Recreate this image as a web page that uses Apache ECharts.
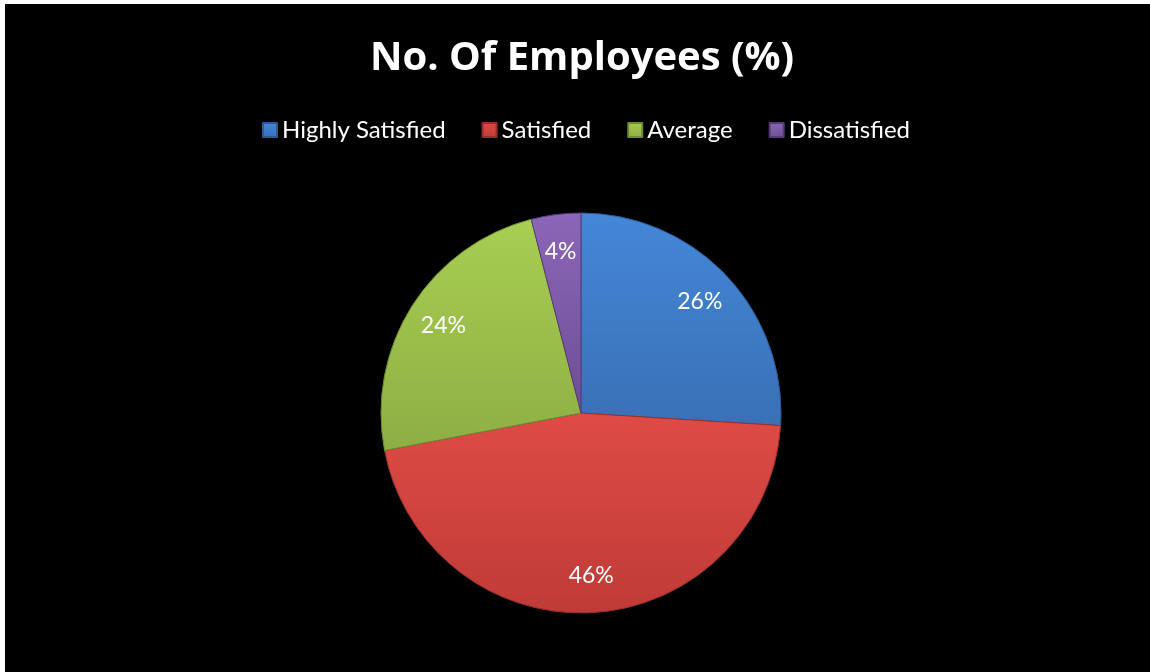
<!DOCTYPE html>
<html>
<head>
<meta charset="utf-8">
<script src="https://cdn.jsdelivr.net/npm/echarts@6/dist/echarts.min.js"></script>
<style>
  html, body { margin: 0; padding: 0; background: #ffffff; width: 1150px; height: 672px; overflow: hidden; }
  #chart { position: absolute; left: 5px; top: 4px; width: 1145px; height: 668px; background: #000000; }
</style>
</head>
<body>
<div id="chart"></div>
<script>
// Employee satisfaction breakdown
const titleText = 'No. Of Employees (%)';
const categories = ['Highly Satisfied', 'Satisfied', 'Average', 'Dissatisfied'];
const shares = [26, 46, 24, 4];

// top / bottom shade of each slice, plus its edge colour
const topColors = ['#4487d8', '#df4b46', '#a8ce52', '#8c66b8'];
const bottomColors = ['#3a70b6', '#bf3b37', '#8eae44', '#6d4e94'];
const edgeColors = ['#2c5a94', '#9a2e2b', '#6f8a33', '#553b78'];

const TITLE_FONT = '"Open Sans", Lato, sans-serif';
const FONT = 'Lato, "Open Sans", sans-serif';

function sliceFill(i) {
  return new echarts.graphic.LinearGradient(0, 0, 0, 1, [
    { offset: 0, color: topColors[i] },
    { offset: 1, color: bottomColors[i] }
  ]);
}

const chart = echarts.init(document.getElementById('chart'), null, { renderer: 'canvas' });

const cx = 576, cy = 409, R = 200;

chart.setOption({
  backgroundColor: '#000000',
  animation: false,
  title: {
    text: titleText,
    left: 572,
    textAlign: 'center',
    top: 30,
    textStyle: { color: '#ffffff', fontFamily: TITLE_FONT, fontWeight: 'bold', fontSize: 40 }
  },
  legend: {
    data: categories,
    top: 109,
    left: 252,
    itemWidth: 14,
    itemHeight: 14,
    itemGap: 36,
    icon: 'rect',
    textStyle: { color: '#ffffff', fontFamily: FONT, fontSize: 24 }
  },
  series: [
    {
      type: 'pie',
      center: [cx, cy],
      radius: [0, R],
      startAngle: 90,
      clockwise: true,
      label: { show: false },
      labelLine: { show: false },
      silent: true,
      itemStyle: { borderWidth: 1 },
      data: categories.map((name, i) => ({
        name,
        value: shares[i],
        itemStyle: { color: sliceFill(i), borderColor: edgeColors[i] }
      }))
    },
    {
      // transparent ring that carries the percentage labels further out
      type: 'pie',
      center: [cx, cy],
      radius: [R * 0.6, R],
      startAngle: 90,
      clockwise: true,
      silent: true,
      labelLine: { show: false },
      label: {
        show: true,
        position: 'inside',
        formatter: p => p.value + '%',
        color: '#ffffff',
        fontFamily: FONT,
        fontSize: 23
      },
      itemStyle: { color: 'rgba(0,0,0,0)', borderWidth: 0 },
      data: categories.map((name, i) => ({ name, value: shares[i] }))
    }
  ]
});
</script>
</body>
</html>
